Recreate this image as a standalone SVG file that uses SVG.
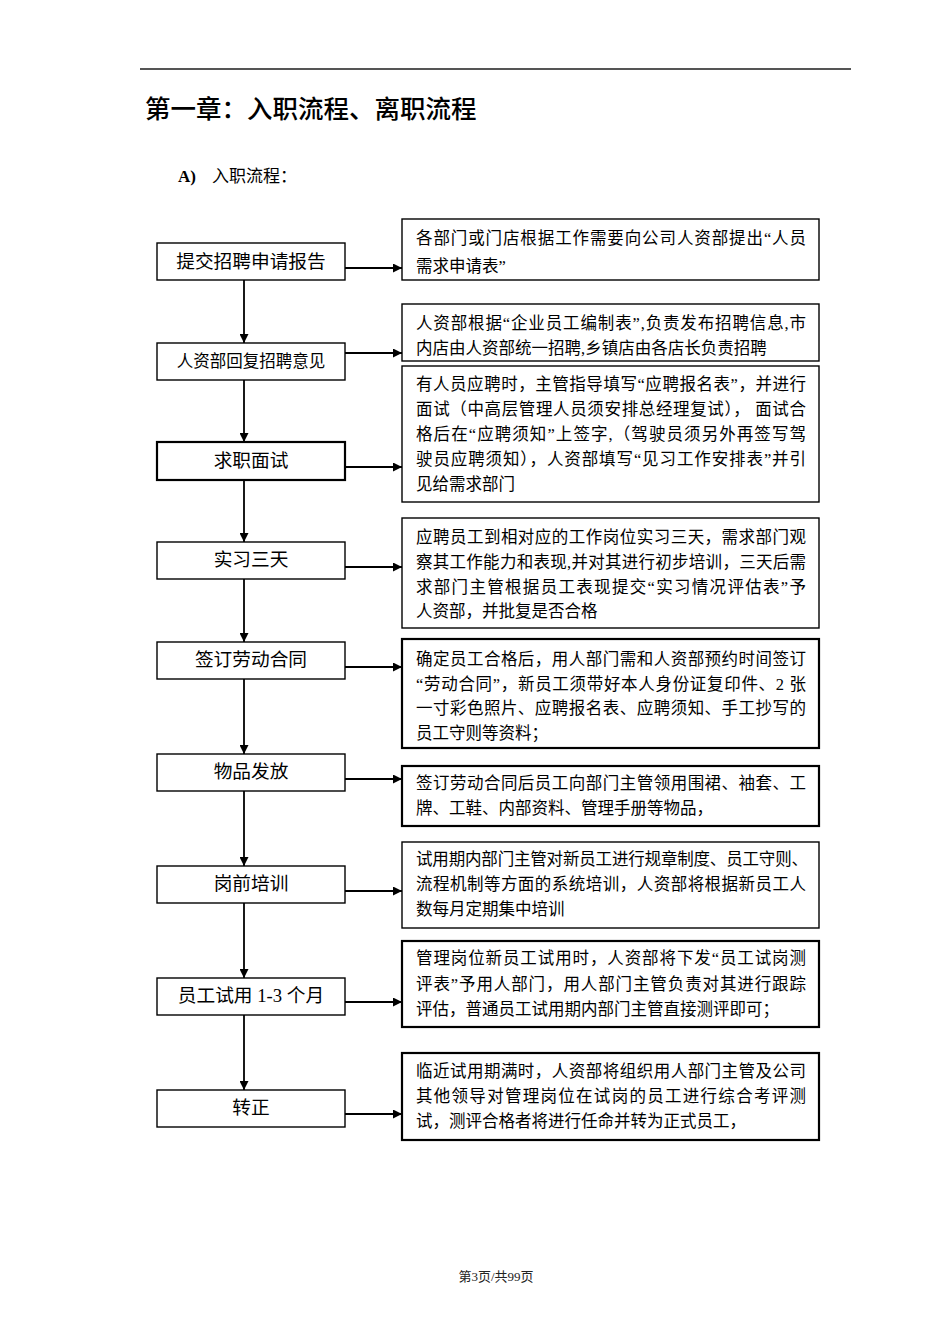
<svg xmlns="http://www.w3.org/2000/svg" width="950" height="1344" viewBox="0 0 950 1344">
<style>
.bg{fill:#fff}
.box{fill:#fff;stroke:#000;stroke-width:1.4}
.thick{stroke-width:2.2}
.lt{font-family:"Liberation Serif","Noto Sans CJK SC",serif;font-size:18.7px;fill:#000;text-anchor:middle}
.rt{font-family:"Liberation Serif","Noto Sans CJK SC",serif;font-size:16.5px;fill:#000}
.conn{stroke:#000;stroke-width:1.8;fill:none;marker-end:url(#ah)}
</style>
<defs>
<marker id="ah" viewBox="0 0 10 10" refX="10" refY="5" markerWidth="10" markerHeight="9" orient="auto" markerUnits="userSpaceOnUse">
<path d="M0,0 L10,5 L0,10 z" fill="#000"/>
</marker>
</defs>
<rect class="bg" x="0" y="0" width="950" height="1344"/>
<line x1="140" y1="69" x2="851" y2="69" stroke="#555" stroke-width="2"/>
<text x="145" y="118" font-family="'Noto Sans CJK SC',sans-serif" font-size="25.5" font-weight="500" fill="#000">第一章：入职流程、离职流程</text>
<text x="178" y="182" font-family="'Liberation Serif','Noto Sans CJK SC',serif" font-size="17" fill="#000"><tspan font-weight="bold">A)</tspan><tspan x="212">入职流程：</tspan></text>

<g id="n1"><rect class="box" x="157" y="243" width="188" height="37"/><text class="lt" x="251" y="268">提交招聘申请报告</text></g>
<g id="n2"><rect class="box" x="157" y="343" width="188" height="37"/><text class="lt" x="251" y="367" style="font-size:16.5px">人资部回复招聘意见</text></g>
<g id="n3"><rect class="box thick" x="157" y="442" width="188" height="38"/><text class="lt" x="251" y="467">求职面试</text></g>
<g id="n4"><rect class="box" x="157" y="542" width="188" height="37"/><text class="lt" x="251" y="566">实习三天</text></g>
<g id="n5"><rect class="box" x="157" y="642" width="188" height="37"/><text class="lt" x="251" y="666">签订劳动合同</text></g>
<g id="n6"><rect class="box" x="157" y="754" width="188" height="37"/><text class="lt" x="251" y="778">物品发放</text></g>
<g id="n7"><rect class="box" x="157" y="866" width="188" height="37"/><text class="lt" x="251" y="890">岗前培训</text></g>
<g id="n8"><rect class="box" x="157" y="978" width="188" height="37"/><text class="lt" x="251" y="1002">员工试用 1-3 个月</text></g>
<g id="n9"><rect class="box" x="157" y="1090" width="188" height="37"/><text class="lt" x="251" y="1114">转正</text></g>

<g id="d1"><rect class="box" x="402" y="219" width="417" height="61"/>
<text class="rt" x="416" y="244" textLength="390" lengthAdjust="spacing">各部门或门店根据工作需要向公司人资部提出“人员</text>
<text class="rt" x="416" y="272">需求申请表”</text></g>
<g id="d2"><rect class="box" x="402" y="304" width="417" height="57"/>
<text class="rt" x="416" y="329" textLength="390" lengthAdjust="spacing">人资部根据“企业员工编制表”,负责发布招聘信息,市</text>
<text class="rt" x="416" y="354">内店由人资部统一招聘,乡镇店由各店长负责招聘</text></g>
<g id="d3"><rect class="box" x="402" y="366" width="417" height="136"/>
<text class="rt" x="416" y="390" textLength="390" lengthAdjust="spacing">有人员应聘时，主管指导填写“应聘报名表”，并进行</text>
<text class="rt" x="416" y="415" textLength="390" lengthAdjust="spacing">面试（中高层管理人员须安排总经理复试）， 面试合</text>
<text class="rt" x="416" y="440" textLength="390" lengthAdjust="spacing">格后在“应聘须知”上签字,（驾驶员须另外再签写驾</text>
<text class="rt" x="416" y="465" textLength="390" lengthAdjust="spacing">驶员应聘须知），人资部填写“见习工作安排表”并引</text>
<text class="rt" x="416" y="490">见给需求部门</text></g>
<g id="d4"><rect class="box" x="402" y="518" width="417" height="110"/>
<text class="rt" x="416" y="543" textLength="390" lengthAdjust="spacing">应聘员工到相对应的工作岗位实习三天，需求部门观</text>
<text class="rt" x="416" y="568" textLength="390" lengthAdjust="spacing">察其工作能力和表现,并对其进行初步培训，三天后需</text>
<text class="rt" x="416" y="593" textLength="390" lengthAdjust="spacing">求部门主管根据员工表现提交“实习情况评估表”予</text>
<text class="rt" x="416" y="617">人资部，并批复是否合格</text></g>
<g id="d5"><rect class="box thick" x="402" y="639" width="417" height="109"/>
<text class="rt" x="416" y="665" textLength="390" lengthAdjust="spacing">确定员工合格后，用人部门需和人资部预约时间签订</text>
<text class="rt" x="416" y="690" textLength="390" lengthAdjust="spacing">“劳动合同”，新员工须带好本人身份证复印件、2 张</text>
<text class="rt" x="416" y="714" textLength="390" lengthAdjust="spacing">一寸彩色照片、应聘报名表、应聘须知、手工抄写的</text>
<text class="rt" x="416" y="739">员工守则等资料；</text></g>
<g id="d6"><rect class="box thick" x="402" y="766" width="417" height="60"/>
<text class="rt" x="416" y="789" textLength="390" lengthAdjust="spacing">签订劳动合同后员工向部门主管领用围裙、袖套、工</text>
<text class="rt" x="416" y="814">牌、工鞋、内部资料、管理手册等物品，</text></g>
<g id="d7"><rect class="box" x="402" y="842" width="417" height="86"/>
<text class="rt" x="416" y="865" textLength="392" lengthAdjust="spacing">试用期内部门主管对新员工进行规章制度、员工守则、</text>
<text class="rt" x="416" y="890" textLength="390" lengthAdjust="spacing">流程机制等方面的系统培训，人资部将根据新员工人</text>
<text class="rt" x="416" y="915">数每月定期集中培训</text></g>
<g id="d8"><rect class="box thick" x="402" y="941" width="417" height="86"/>
<text class="rt" x="416" y="964" textLength="390" lengthAdjust="spacing">管理岗位新员工试用时，人资部将下发“员工试岗测</text>
<text class="rt" x="416" y="990" textLength="390" lengthAdjust="spacing">评表”予用人部门，用人部门主管负责对其进行跟踪</text>
<text class="rt" x="416" y="1015">评估，普通员工试用期内部门主管直接测评即可；</text></g>
<g id="d9"><rect class="box thick" x="402" y="1053" width="417" height="87"/>
<text class="rt" x="416" y="1077" textLength="390" lengthAdjust="spacing">临近试用期满时，人资部将组织用人部门主管及公司</text>
<text class="rt" x="416" y="1102" textLength="390" lengthAdjust="spacing">其他领导对管理岗位在试岗的员工进行综合考评测</text>
<text class="rt" x="416" y="1127">试，测评合格者将进行任命并转为正式员工，</text></g>

<g id="connectors">
<line class="conn" x1="244" y1="280" x2="244" y2="343"/>
<line class="conn" x1="244" y1="380" x2="244" y2="442"/>
<line class="conn" x1="244" y1="480" x2="244" y2="542"/>
<line class="conn" x1="244" y1="579" x2="244" y2="642"/>
<line class="conn" x1="244" y1="679" x2="244" y2="754"/>
<line class="conn" x1="244" y1="791" x2="244" y2="866"/>
<line class="conn" x1="244" y1="903" x2="244" y2="978"/>
<line class="conn" x1="244" y1="1015" x2="244" y2="1090"/>
<line class="conn" x1="345" y1="268" x2="402" y2="268"/>
<line class="conn" x1="345" y1="353" x2="402" y2="353"/>
<line class="conn" x1="345" y1="467" x2="402" y2="467"/>
<line class="conn" x1="345" y1="567" x2="402" y2="567"/>
<line class="conn" x1="345" y1="667" x2="402" y2="667"/>
<line class="conn" x1="345" y1="779" x2="402" y2="779"/>
<line class="conn" x1="345" y1="891" x2="402" y2="891"/>
<line class="conn" x1="345" y1="1002" x2="402" y2="1002"/>
<line class="conn" x1="345" y1="1114" x2="402" y2="1114"/>
</g>
<text x="496" y="1281" font-family="'Liberation Serif','Noto Sans CJK SC',serif" font-size="13" fill="#222" text-anchor="middle">第3页/共99页</text>
</svg>
